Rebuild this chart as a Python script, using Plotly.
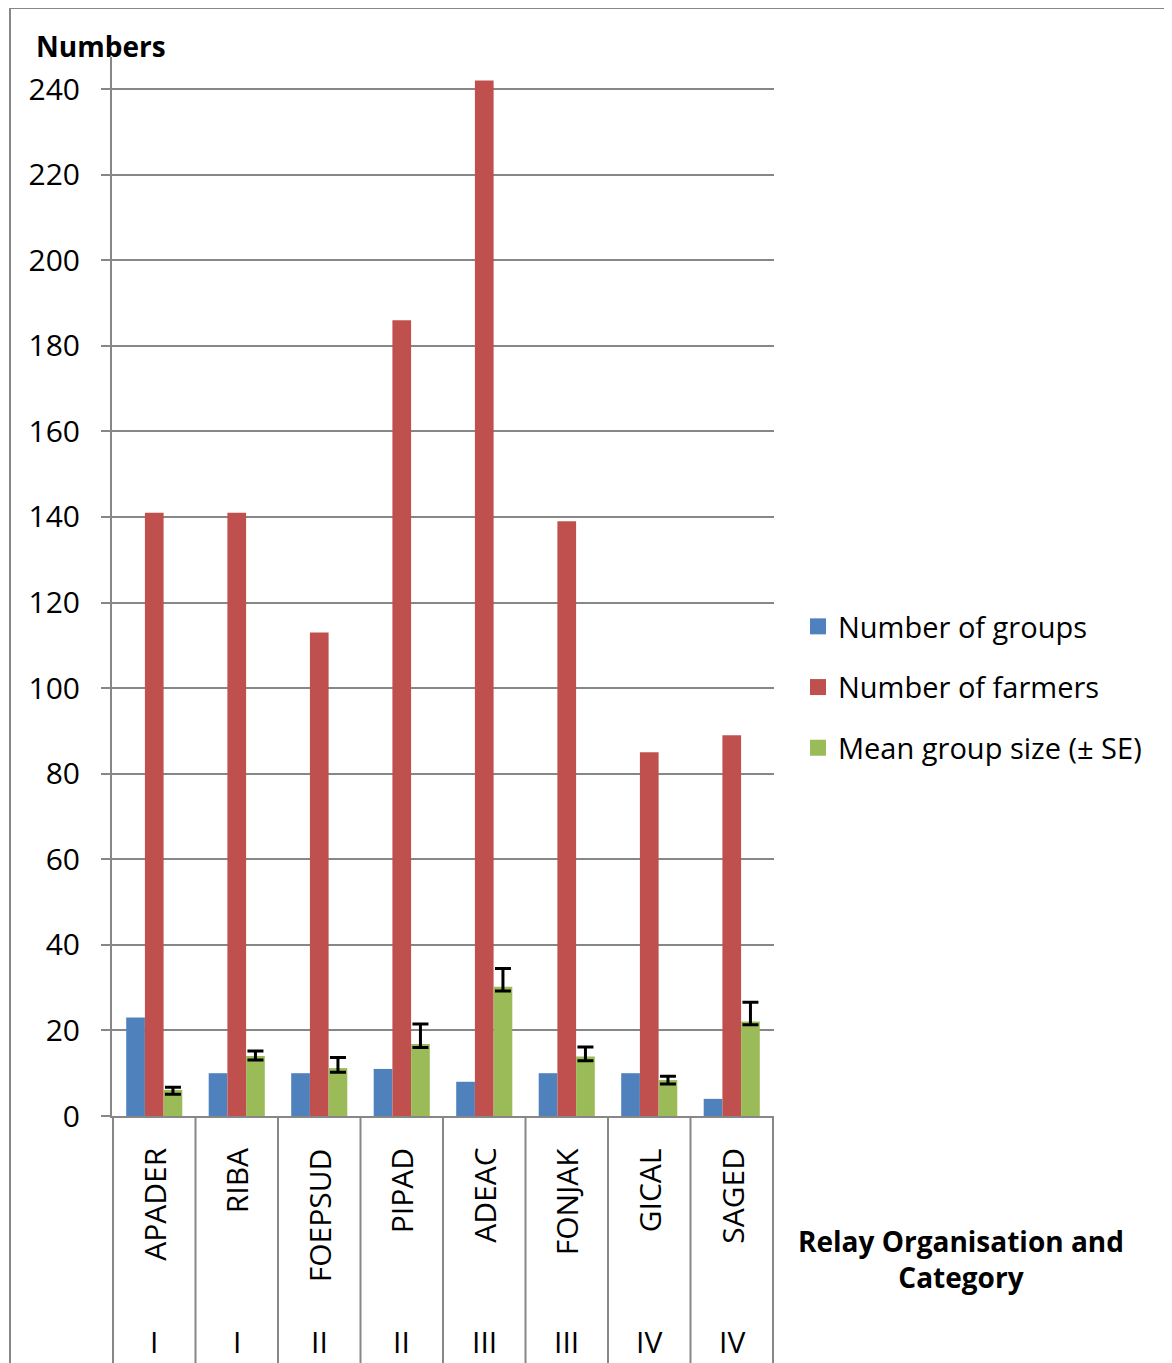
import plotly.graph_objects as go

organisations = ["APADER", "RIBA", "FOEPSUD", "PIPAD", "ADEAC", "FONJAK", "GICAL", "SAGED"]
categories = ["I", "I", "II", "II", "III", "III", "IV", "IV"]
n_groups = [23, 10, 10, 11, 8, 10, 10, 4]
n_farmers = [141, 141, 113, 186, 242, 139, 85, 89]
mean_size = [6.1, 14.0, 11.2, 16.8, 30.2, 13.9, 8.4, 22.1]
se_plus = [0.6, 1.2, 2.5, 4.7, 4.3, 2.2, 0.9, 4.5]
se_minus = [1.0, 0.9, 1.0, 0.8, 1.0, 1.0, 0.9, 0.8]
y_ticks = [0, 20, 40, 60, 80, 100, 120, 140, 160, 180, 200, 220, 240]
series_names = ["Number of groups", "Number of farmers", "Mean group size (± SE)"]
series_colors = ["#4F81BD", "#C0504D", "#9BBB59"]

FONT = "Open Sans"
GRAY = "#878787"
OFF = 8  # page body margin
W, H = 1172 - OFF, 1363 - OFF
L, R, T, B = 112 - OFF, 1172 - 774, 57 - OFF, 1363 - 1116
PW, PH = W - L - R, H - T - B

def px_x(px):
    return (px - OFF - L) / PW

def px_y(py):
    return (H - B - (py - OFF)) / PH

fig = go.Figure()
for name, vals, col in zip(series_names, [n_groups, n_farmers, mean_size], series_colors):
    err = None
    if vals is mean_size:
        err = dict(type="data", symmetric=False, array=se_plus, arrayminus=se_minus,
                   color="black", thickness=3, width=8)
    fig.add_trace(go.Bar(x=organisations, y=vals, name=name, showlegend=False,
                         marker=dict(color=col, line=dict(width=0)), error_y=err))
# legend entries with larger square swatches
for i, (name, col) in enumerate(zip(series_names, series_colors)):
    fig.add_trace(go.Scatter(x=[None], y=[None], mode="markers", name=name,
                             legendgroup=str(i),
                             marker=dict(symbol="square", size=19, color=col)))

shapes = []
for i in range(len(organisations) + 1):
    shapes.append(dict(type="line", xref="x", yref="paper", x0=i - 0.5, x1=i - 0.5,
                       y0=0, y1=-0.3, line=dict(color=GRAY, width=2)))
# outer chart frame
shapes.append(dict(type="rect", xref="paper", yref="paper",
                   x0=px_x(10), x1=px_x(1172 + 20), y0=px_y(8), y1=px_y(1363 + 20),
                   line=dict(color=GRAY, width=2), fillcolor="rgba(0,0,0,0)", layer="below"))

annotations = []
for org, cat in zip(organisations, categories):
    annotations.append(dict(x=org, xref="x", y=px_y(1146), yref="paper", text=org,
                            textangle=-90, showarrow=False, xanchor="center", yanchor="top",
                            font=dict(family=FONT, size=30, color="black")))
    annotations.append(dict(x=org, xref="x", y=px_y(1341), yref="paper", text=cat,
                            showarrow=False, xanchor="center", yanchor="middle",
                            font=dict(family=FONT, size=30, color="black")))
annotations.append(dict(x=px_x(34), y=px_y(46), xref="paper", yref="paper", text="<b>Numbers</b>",
                        showarrow=False, xanchor="left", yanchor="middle",
                        font=dict(family=FONT, size=28, color="black")))
annotations.append(dict(x=px_x(961), y=px_y(1259), xref="paper", yref="paper",
                        text="<b>Relay Organisation and<br>Category</b>", align="center",
                        showarrow=False, xanchor="center", yanchor="middle",
                        font=dict(family=FONT, size=28, color="black")))

fig.update_layout(
    width=W, height=H,
    margin=dict(l=L, r=R, t=T, b=B, pad=0),
    paper_bgcolor="white", plot_bgcolor="white",
    barmode="group", bargap=0.32, bargroupgap=0,
    font=dict(family=FONT, size=28, color="black"),
    showlegend=True,
    legend=dict(x=px_x(798), y=px_y(601), xanchor="left", yanchor="top",
                font=dict(family=FONT, size=29, color="black"),
                tracegroupgap=20, bgcolor="rgba(0,0,0,0)", itemwidth=30),
    xaxis=dict(showticklabels=False, showline=True, linecolor=GRAY, linewidth=2,
               ticks="", showgrid=False, zeroline=False),
    yaxis=dict(range=[0, 247.5], tickvals=y_ticks, showline=True, linecolor=GRAY, linewidth=2,
               ticks="outside", ticklen=9, tickwidth=2, tickcolor=GRAY,
               showgrid=True, gridcolor=GRAY, gridwidth=2, zeroline=False,
               ticklabelstandoff=15,
               tickfont=dict(family=FONT, size=30, color="black")),
    shapes=shapes, annotations=annotations,
)

fig.write_html("out.html")
